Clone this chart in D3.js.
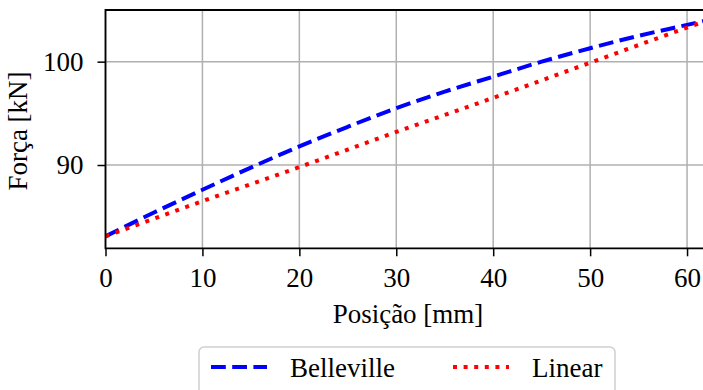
<!DOCTYPE html>
<html lang="pt">
<head>
<meta charset="UTF-8">
<title>Força x Posição</title>
<script src="https://d3js.org/d3.v7.min.js"></script>
<style>
    body { margin: 0; background: #fff; }
    svg { display: block; }
    text { font-family: "Liberation Serif", "DejaVu Serif", serif; fill: #000; }
    .grid line { stroke: #b0b0b0; stroke-width: 1.5; }
    .axis path, .axis line { stroke: #000; stroke-width: 1.5; }
    .axis text { font-size: 27px; }
</style>
</head>
<body>
<div id="chart"></div>
<script>
    // values
    const posBelleville = [0, 5, 10, 15, 20, 25, 30, 35, 40, 45, 50, 55, 60, 61.8];
    const forceBelleville = [83.1, 85.4, 87.6, 89.75, 91.8, 93.7, 95.5, 97.1, 98.55, 100.0, 101.3, 102.5, 103.56, 103.95];
    const posLinear = [0, 10, 20, 30, 40, 50, 60, 61.8];
    const forceLinear = [83.1, 86.5, 89.8, 93.2, 96.5, 99.9, 103.3, 103.9];
    const xTicks = [0, 10, 20, 30, 40, 50, 60];
    const yTicks = [90, 100];
    const seriesNames = ["Belleville", "Linear"];

    const W = 703, H = 390;
    const mLeft = 105.5, mTop = 10, mRight = 704.5, mBottom = 248.3;

    const svg = d3.select("#chart").append("svg")
        .attr("width", W).attr("height", H);

    const x = d3.scaleLinear().domain([0, 61.8]).range([mLeft, mRight]);
    const y = d3.scaleLinear().domain([81.94, 105.0]).range([mBottom, mTop]);

    // grid
    const grid = svg.append("g").attr("class", "grid");
    grid.selectAll(".gx").data(xTicks).join("line")
        .attr("x1", d => x(d)).attr("x2", d => x(d))
        .attr("y1", mTop).attr("y2", mBottom);
    grid.selectAll(".gy").data(yTicks).join("line")
        .attr("x1", mLeft).attr("x2", mRight)
        .attr("y1", d => y(d)).attr("y2", d => y(d));

    svg.append("clipPath").attr("id", "plot")
        .append("rect").attr("x", mLeft).attr("y", mTop)
        .attr("width", mRight - mLeft).attr("height", mBottom - mTop);

    const line = d3.line().curve(d3.curveMonotoneX)
        .x(d => x(d[0])).y(d => y(d[1]));

    const bellData = posBelleville.map((p, i) => [p, forceBelleville[i]]);
    const linData = posLinear.map((p, i) => [p, forceLinear[i]]);

    const curves = svg.append("g").attr("clip-path", "url(#plot)");
    curves.append("path").datum(bellData)
        .attr("d", line).attr("fill", "none")
        .attr("stroke", "#0000ff").attr("stroke-width", 4)
        .attr("stroke-dasharray", "14.8,6.4");
    curves.append("path").datum(linData)
        .attr("d", line).attr("fill", "none")
        .attr("stroke", "#ff0000").attr("stroke-width", 4)
        .attr("stroke-dasharray", "4,6.6");

    // axes
    const xAxis = svg.append("g").attr("class", "axis")
        .attr("transform", `translate(0,${mBottom})`)
        .call(d3.axisBottom(x).tickValues(xTicks).tickSize(8).tickPadding(12).tickSizeOuter(0));
    xAxis.select(".domain").remove();

    const yAxis = svg.append("g").attr("class", "axis")
        .attr("transform", `translate(${mLeft},0)`)
        .call(d3.axisLeft(y).tickValues(yTicks).tickSize(8).tickPadding(14).tickSizeOuter(0));
    yAxis.select(".domain").remove();

    // spines
    svg.append("path")
        .attr("d", `M${mRight},${mTop}H${mLeft}V${mBottom}H${mRight}`)
        .attr("fill", "none").attr("stroke", "#000").attr("stroke-width", 1.8);

    // axis labels
    svg.append("text")
        .attr("x", 408).attr("y", 323)
        .attr("text-anchor", "middle").attr("font-size", 27)
        .text("Posição [mm]");
    svg.append("text")
        .attr("transform", "translate(27,131) rotate(-90)")
        .attr("text-anchor", "middle").attr("font-size", 27)
        .text("Força [kN]");

    // legend
    const legend = svg.append("g");
    legend.append("rect")
        .attr("x", 199).attr("y", 347).attr("width", 416).attr("height", 60)
        .attr("rx", 5).attr("fill", "#fff").attr("fill-opacity", 0.8)
        .attr("stroke", "#d0d0d0").attr("stroke-width", 1.5);
    const items = [
        { name: seriesNames[0], color: "#0000ff", dash: "14.8,6.4", x0: 211 },
        { name: seriesNames[1], color: "#ff0000", dash: "4,6.6", x0: 453 }
    ];
    items.forEach(it => {
        legend.append("line")
            .attr("x1", it.x0).attr("x2", it.x0 + 56)
            .attr("y1", 367).attr("y2", 367)
            .attr("stroke", it.color).attr("stroke-width", 4)
            .attr("stroke-dasharray", it.dash);
        legend.append("text")
            .attr("x", it.x0 + 79).attr("y", 377)
            .attr("font-size", 27)
            .text(it.name);
    });
</script>
</body>
</html>
